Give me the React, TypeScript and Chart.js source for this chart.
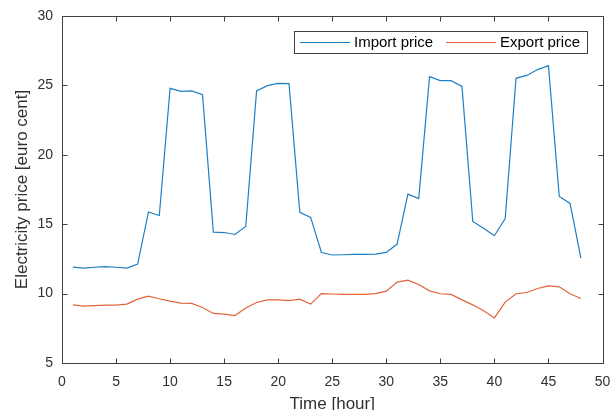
import React, { useEffect, useRef } from "react";
import { Chart, registerables } from "chart.js";

Chart.register(...registerables);

const hours = [1, 2, 3, 4, 5, 6, 7, 8, 9, 10, 11, 12, 13, 14, 15, 16, 17, 18, 19, 20, 21, 22, 23, 24, 25, 26, 27, 28, 29, 30, 31, 32, 33, 34, 35, 36, 37, 38, 39, 40, 41, 42, 43, 44, 45, 46, 47, 48];

const importPrice = [11.91, 11.84, 11.9, 11.95, 11.9, 11.84, 12.13, 15.88, 15.63, 24.79, 24.57, 24.6, 24.33, 14.43, 14.4, 14.26, 14.84, 24.6, 24.98, 25.15, 25.13, 15.85, 15.49, 12.96, 12.78, 12.8, 12.83, 12.83, 12.85, 12.97, 13.57, 17.17, 16.84, 25.63, 25.34, 25.34, 24.93, 15.2, 14.7, 14.17, 15.41, 25.51, 25.72, 26.14, 26.42, 17.0, 16.5, 12.56];

const exportPrice = [9.19, 9.1, 9.14, 9.17, 9.17, 9.24, 9.6, 9.82, 9.63, 9.46, 9.31, 9.29, 9.0, 8.57, 8.52, 8.42, 8.97, 9.36, 9.55, 9.55, 9.5, 9.6, 9.24, 10.0, 9.97, 9.94, 9.94, 9.94, 10.0, 10.18, 10.83, 10.97, 10.66, 10.2, 9.99, 9.94, 9.55, 9.19, 8.76, 8.25, 9.39, 9.99, 10.08, 10.37, 10.56, 10.49, 9.99, 9.65];

const seriesLabels = ["Import price", "Export price"];
const xTicks = [0, 5, 10, 15, 20, 25, 30, 35, 40, 45, 50];
const yTicks = [5, 10, 15, 20, 25, 30];
const xTitle = "Time [hour]";
const yTitle = "Electricity price [euro cent]";

const FONT = "'Liberation Sans', Arial, Helvetica, sans-serif";
const AXIS_COLOR = "#404040";
const TEXT_COLOR = "#303030";
const BLUE = "#1f7fc4";
const ORANGE = "#e0643a";

const framePlugin = {
  id: "frame",
  afterDatasetsDraw(chart: any) {
    const { ctx, chartArea } = chart;
    const { left, right, top, bottom } = chartArea;
    const xs = chart.scales.x;
    const ys = chart.scales.y;
    ctx.save();
    ctx.strokeStyle = AXIS_COLOR;
    ctx.lineWidth = 1;
    const L = Math.round(left) + 0.5;
    const R = Math.round(right) + 0.5;
    const T = Math.round(top) + 0.5;
    const B = Math.round(bottom) + 0.5;
    ctx.beginPath();
    ctx.rect(L, T, R - L, B - T);
    const tl = 5;
    xTicks.forEach((v) => {
      const p = Math.round(xs.getPixelForValue(v)) + 0.5;
      ctx.moveTo(p, B);
      ctx.lineTo(p, B - tl);
      ctx.moveTo(p, T);
      ctx.lineTo(p, T + tl);
    });
    yTicks.forEach((v) => {
      const p = Math.round(ys.getPixelForValue(v)) + 0.5;
      ctx.moveTo(L, p);
      ctx.lineTo(L + tl, p);
      ctx.moveTo(R, p);
      ctx.lineTo(R - tl, p);
    });
    ctx.stroke();
    ctx.restore();
  },
  afterDraw(chart: any) {
    const { ctx } = chart;
    ctx.save();
    const bx = 294.5, by = 31.5, bw = 293, bh = 22;
    ctx.fillStyle = "#ffffff";
    ctx.fillRect(bx, by, bw, bh);
    ctx.strokeStyle = AXIS_COLOR;
    ctx.lineWidth = 1;
    ctx.strokeRect(bx, by, bw, bh);
    const cy = by + bh / 2;
    const items = [
      { x: 300, ds: chart.data.datasets[0] },
      { x: 446, ds: chart.data.datasets[1] },
    ];
    ctx.font = `15px ${FONT}`;
    ctx.textBaseline = "middle";
    ctx.textAlign = "left";
    items.forEach((it) => {
      ctx.strokeStyle = it.ds.borderColor;
      ctx.lineWidth = 1.2;
      ctx.beginPath();
      ctx.moveTo(it.x, cy);
      ctx.lineTo(it.x + 50, cy);
      ctx.stroke();
      ctx.fillStyle = "#000000";
      ctx.fillText(it.ds.label, it.x + 54, cy + 0.5);
    });
    ctx.restore();
  },
};

export default function App() {
  const ref = useRef<HTMLCanvasElement | null>(null);
  useEffect(() => {
    if (!ref.current) return;
    const chart = new Chart(ref.current, {
      type: "line",
      data: {
        datasets: [
          {
            label: seriesLabels[0],
            data: hours.map((h, i) => ({ x: h, y: importPrice[i] })),
            borderColor: BLUE,
            backgroundColor: BLUE,
            borderWidth: 1.2,
            pointRadius: 0,
            tension: 0,
          },
          {
            label: seriesLabels[1],
            data: hours.map((h, i) => ({ x: h, y: exportPrice[i] })),
            borderColor: ORANGE,
            backgroundColor: ORANGE,
            borderWidth: 1.2,
            pointRadius: 0,
            tension: 0,
          },
        ],
      },
      options: {
        animation: false,
        responsive: false,
        devicePixelRatio: 1,
        layout: { padding: { left: 0, top: 16, right: 10.5, bottom: 0 } },
        plugins: { legend: { display: false }, tooltip: { enabled: false } },
        scales: {
          x: {
            type: "linear",
            min: 0,
            max: 50,
            afterBuildTicks: (scale: any) => {
              scale.ticks = xTicks.map((v) => ({ value: v }));
            },
            afterFit: (scale: any) => {
              scale.height = 47;
              scale.paddingLeft = 0;
              scale.paddingRight = 0;
            },
            grid: { display: false, drawTicks: false },
            border: { display: false },
            ticks: {
              color: TEXT_COLOR,
              font: { family: FONT, size: 14 },
              padding: 11,
              maxRotation: 0,
              autoSkip: false,
            },
            title: {
              display: true,
              text: xTitle,
              color: TEXT_COLOR,
              font: { family: FONT, size: 17 },
              padding: { top: 0, bottom: -5 },
            },
          },
          y: {
            type: "linear",
            min: 5,
            max: 30,
            afterBuildTicks: (scale: any) => {
              scale.ticks = yTicks.map((v) => ({ value: v }));
            },
            afterFit: (scale: any) => {
              scale.width = 62;
              scale.paddingTop = 0;
              scale.paddingBottom = 0;
            },
            grid: { display: false, drawTicks: false },
            border: { display: false },
            ticks: {
              color: TEXT_COLOR,
              font: { family: FONT, size: 14 },
              padding: 9,
              autoSkip: false,
            },
            title: {
              display: true,
              text: yTitle,
              color: TEXT_COLOR,
              font: { family: FONT, size: 17 },
              padding: { top: 12, bottom: 0 },
            },
          },
        },
      },
      plugins: [framePlugin],
    } as any);
    return () => chart.destroy();
  }, []);
  return (
    <div style={{ position: "absolute", left: 0, top: 0, width: 613, height: 410, background: "#fff" }}>
      <canvas ref={ref} width={613} height={410} style={{ display: "block" }} />
    </div>
  );
}
